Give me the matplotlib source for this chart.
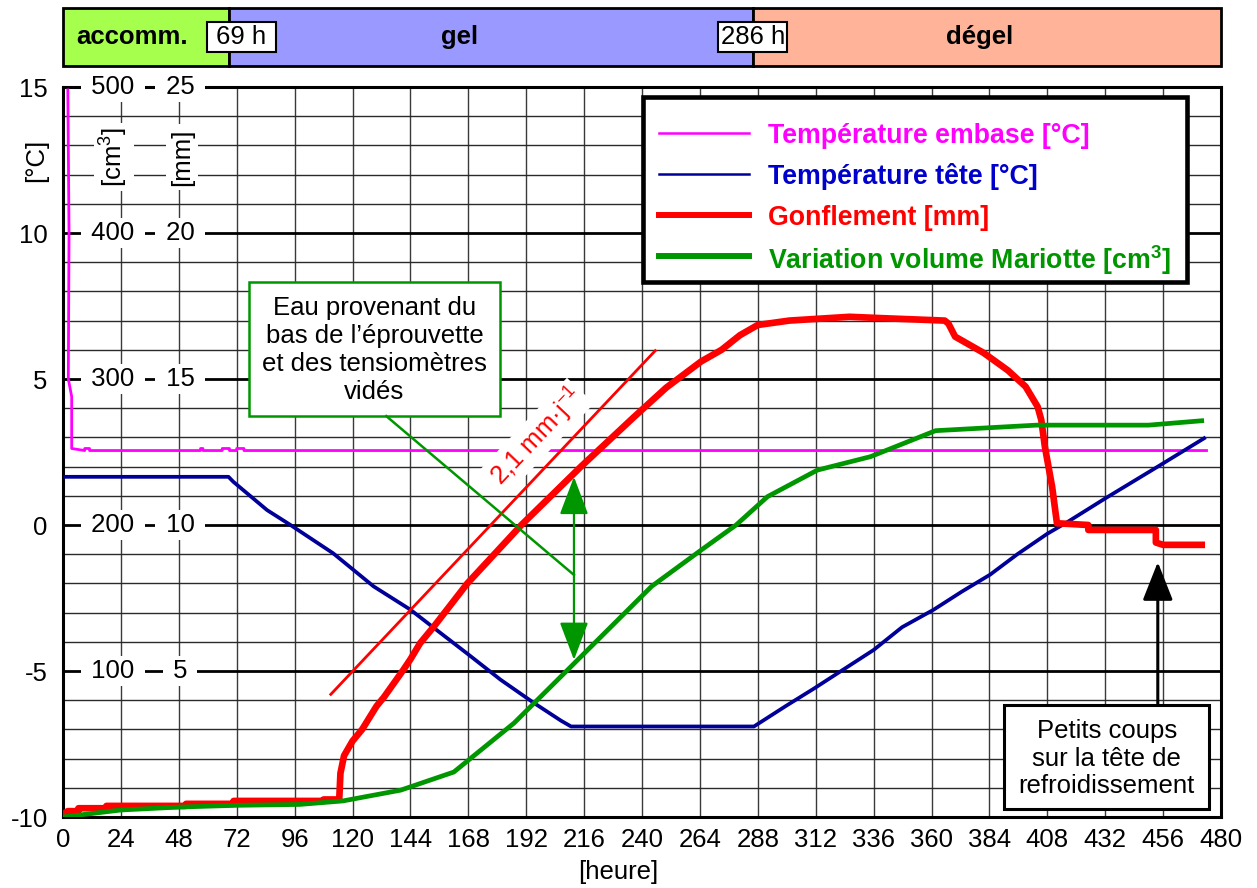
import matplotlib
matplotlib.use("Agg")
import matplotlib.pyplot as plt
from matplotlib.patches import Rectangle, FancyArrowPatch, ArrowStyle
from matplotlib.lines import Line2D

plt.rcParams['font.family'] = ['Liberation Sans', 'DejaVu Sans']
plt.rcParams['mathtext.default'] = 'regular'
plt.rcParams['axes.unicode_minus'] = False

# ---------------- data ----------------
hour_ticks = list(range(0, 481, 24))
temp_ticks = [-10, -5, 0, 5, 10, 15]
vol_ticks = [100, 200, 300, 400, 500]
mm_ticks = [5, 10, 15, 20, 25]

phase_names = ["accomm.", "gel", "dégel"]
phase_start = [0, 69, 286]
phase_end = [69, 286, 480]
phase_colors = ["#A6FF4D", "#9999FF", "#FFB399"]
bound_labels = [" 69 h ", "286 h"]

# Température embase [°C]
emb_t = [2.0, 2.5, 2.2, 3.6, 3.6, 9.0, 9.0, 11.0, 11.0, 57.0, 57.0, 58.0, 58.0,
         66.0, 66.0, 69.0, 69.0, 72.0, 72.0, 75.0, 75.0, 474.0]
emb_T = [14.9, 10.0, 5.0, 4.4, 2.62, 2.55, 2.62, 2.62, 2.55, 2.55, 2.62, 2.62, 2.55,
         2.55, 2.62, 2.62, 2.55, 2.55, 2.62, 2.62, 2.55, 2.55]

# Température tête [°C]
tete_t = [1, 68.6, 70.6, 84.6, 94.3, 112, 128.7, 144, 156.5, 167.5, 181.4, 195.3,
          206.4, 210.6, 286.4, 299.6, 311.3, 324.4, 336, 347.8, 360.9, 372.6, 384.3,
          395.6, 408, 416.5, 432, 456, 473]
tete_T = [1.65, 1.65, 1.48, 0.51, 0.0, -0.97, -2.1, -2.9, -3.7, -4.4, -5.3, -6.1,
          -6.7, -6.9, -6.9, -6.2, -5.6, -4.9, -4.28, -3.5, -2.9, -2.28, -1.7,
          -1.0, -0.3, 0.11, 0.91, 2.11, 2.97]

# Gonflement [mm]
gonf_t = [0, 1, 2, 6.4, 6.4, 18, 18, 51, 51, 70.7, 70.7, 108, 108, 114.5, 115, 116.5,
          120, 124, 130, 133, 141, 144, 148, 153.7, 167.6, 190, 214.7, 236.7, 250,
          264.5, 273, 280.6, 288, 301, 326, 340.6, 365.5, 367, 369.8, 381.5, 391.6,
          399, 404, 405.5, 407, 410, 412, 425, 425, 453, 453, 456, 472]
gonf_mm = [0, 0.15, 0.2, 0.2, 0.3, 0.3, 0.38, 0.38, 0.45, 0.45, 0.55, 0.55, 0.6, 0.6,
           1.5, 2.1, 2.6, 3.0, 3.8, 4.1, 5.03, 5.4, 5.95, 6.52, 8.0, 10.0, 12.0, 13.7,
           14.7, 15.6, 16.0, 16.5, 16.85, 17.0, 17.13, 17.08, 17.0, 16.9, 16.45, 15.9,
           15.3, 14.74, 14.05, 13.6, 12.68, 11.31, 10.06, 10.0, 9.83, 9.83, 9.4, 9.32,
           9.32]

# Variation volume Mariotte [cm3]
mar_t = [0, 24, 48, 72, 98, 116, 140, 162, 187, 212, 244, 264.5, 279, 292, 312.7,
         334.7, 361.7, 403.5, 450, 472]
mar_cm3 = [0, 4.8, 6.8, 8, 8.6, 11, 18.4, 30.8, 64.4, 105.4, 158, 182.8, 200, 219.4,
           237.6, 246.8, 264.6, 268.4, 268.4, 271.4]

# tangente 2,1 mm/j
slope_t = [111, 245.5]
slope_mm = [4.2, 15.97]

legend_labels = ["Température embase [°C]", "Température tête [°C]",
                 "Gonflement [mm]", "Variation volume Mariotte [cm$^{3}$]"]

# ---------------- style ----------------
FS = 18.5
FS_LEG = 19.3
MAG = "#FF00FF"
BLUE = "#000099"
BLUE_TXT = "#0000CC"
RED = "#FF0000"
GREEN = "#009600"

W, H = 1257, 888


def fx(px):
    return px / W


def fy(py):
    return 1 - py / H


fig = plt.figure(figsize=(W / 100, H / 100), dpi=100)

ax = fig.add_axes([fx(63), fy(817), fx(1221) - fx(63), fy(87) - fy(817)])
ax.set_xlim(0, 480)
ax.set_ylim(-10, 15)
ax.set_xticks(hour_ticks)
ax.set_xticklabels([str(h) for h in hour_ticks])
ax.set_yticks(temp_ticks)
ax.set_yticklabels([str(t) for t in temp_ticks])
ax.set_yticks(range(-10, 16), minor=True)
ax.tick_params(which="both", length=0, labelsize=FS)
ax.tick_params(axis="y", pad=11)
ax.tick_params(axis="x", pad=8)
ax.set_axisbelow(True)
ax.grid(True, axis="x", which="major", color="#3a3a3a", lw=1.0)
ax.grid(True, axis="y", which="major", color="black", lw=2.0)
ax.grid(True, axis="y", which="minor", color="#2a2a2a", lw=1.0)
for s in ax.spines.values():
    s.set_linewidth(2.2)
    s.set_color("black")

ax.set_xlabel("[heure]", fontsize=FS)
ax.xaxis.set_label_coords((618 - 63) / (1221 - 63), -0.059)
fig.text(fx(36), fy(160), "[°C]", rotation=90, ha="center", va="center", fontsize=FS)

ax.plot(emb_t, emb_T, color=MAG, lw=2.0, zorder=3)
ax.plot(tete_t, tete_T, color=BLUE, lw=2.7, zorder=3)

ax_mm = ax.twinx()
ax_mm.set_ylim(0, 25)
ax_mm.set_axis_off()
ax_cm = ax.twinx()
ax_cm.set_ylim(0, 500)
ax_cm.set_axis_off()

ax_mm.plot(slope_t, slope_mm, color=RED, lw=2.0, zorder=3)
ax_mm.plot(gonf_t, gonf_mm, color=RED, lw=4.8, zorder=4)
ax_cm.plot(mar_t, mar_cm3, color=GREEN, lw=3.4, zorder=4)

# secondary scales written inside the plot
lab_box = dict(boxstyle="square,pad=0.12", fc="white", ec="none")
for v in vol_ticks:
    ax_cm.text(20.7, v, f" {v} ", ha="center", va="center", fontsize=FS,
               bbox=lab_box, zorder=6, clip_on=False)
for m in mm_ticks:
    ax_mm.text(48.5, m, f" {m} ", ha="center", va="center", fontsize=FS,
               bbox=lab_box, zorder=6, clip_on=False)
ax_cm.text(21.1, 452, "[cm$^{3}$]", rotation=90, ha="center", va="center", fontsize=FS,
           bbox=dict(boxstyle="square,pad=0.15", fc="white", ec="none"), zorder=6)
ax_mm.text(49.3, 22.6, "[mm]", rotation=90, ha="center", va="center", fontsize=FS,
           bbox=dict(boxstyle="square,pad=0.15", fc="white", ec="none"), zorder=6)

# ---------------- annotations (overlay, °C coordinates) ----------------
T = ax.transData
# "Eau provenant..." box
ax_cm.add_patch(Rectangle((77.1, 3.73), 181.1 - 77.1, 8.32 - 3.73, transform=T,
                          fc="white", ec=GREEN, lw=1.8, zorder=7))
ax_cm.text(129.1, 6.0, "Eau provenant du\nbas de l’éprouvette\net des tensiomètres\nvidés",
           transform=T, ha="center", va="center", fontsize=FS, linespacing=1.22, zorder=8)
ax_cm.add_line(Line2D([134, 211.8], [3.73, -1.71], transform=T, color=GREEN, lw=1.8,
                      zorder=7))
ax_cm.add_patch(FancyArrowPatch((211.8, 1.65), (211.8, -4.62), transform=T,
                                arrowstyle=ArrowStyle("<|-|>", head_length=23.8,
                                                      head_width=9.0),
                                mutation_scale=1, color=GREEN, lw=1.6,
                                shrinkA=0, shrinkB=0, zorder=7))

# slope label
ax_cm.text(196.4, 3.02, "2,1 mm·j$^{-1}$", transform=T, rotation=46.6,
           rotation_mode="anchor", ha="center", va="center", fontsize=FS, color=RED,
           bbox=dict(boxstyle="square,pad=0.1", fc="white", ec="none"), zorder=7)

# "Petits coups..." box
ax_cm.add_patch(Rectangle((390.1, -9.73), 475.1 - 390.1, -6.16 + 9.73, transform=T,
                          fc="white", ec="black", lw=2.2, zorder=7))
ax_cm.text(432.6, -8.0, "Petits coups\nsur la tête de\nrefroidissement", transform=T,
           ha="center", va="center", fontsize=FS, linespacing=1.18, zorder=8)
ax_cm.add_patch(FancyArrowPatch((453.8, -6.16), (453.8, -1.27), transform=T,
                                arrowstyle=ArrowStyle("-|>", head_length=23.8,
                                                      head_width=9.4),
                                mutation_scale=1, color="black", lw=2.2,
                                shrinkA=0, shrinkB=0, zorder=7))

# ---------------- phase bar ----------------
bar = fig.add_axes([fx(63), fy(66), fx(1221) - fx(63), fy(8) - fy(66)])
bar.set_xlim(0, 480)
bar.set_ylim(0, 1)
bar.set_axis_off()
label_pos = [28.7, 164.5, 380.0]
for s0, s1, c, name, lp in zip(phase_start, phase_end, phase_colors, phase_names,
                               label_pos):
    bar.add_patch(Rectangle((s0, 0), s1 - s0, 1, fc=c, ec="black", lw=2.0,
                            clip_on=False))
    bar.text(lp, 0.5, name, ha="center", va="center", fontsize=FS, fontweight="bold")
mark_pos = [74.0, 285.9]
for mp, lab in zip(mark_pos, bound_labels):
    bar.text(mp, 0.5, lab, ha="center", va="center", fontsize=FS,
             bbox=dict(boxstyle="square,pad=0.1", fc="white", ec="black", lw=1.5))

# ---------------- legend ----------------
fig.add_artist(Rectangle((fx(643), fy(282)), fx(1187) - fx(643), fy(97) - fy(282),
                         transform=fig.transFigure, fc="white", ec="black", lw=3.3,
                         zorder=5))
leg_colors = [MAG, BLUE, RED, GREEN]
leg_txt_colors = [MAG, BLUE_TXT, RED, GREEN]
leg_lw = [1.8, 1.8, 4.3, 4.3]
leg_y = [133, 174, 215, 256]
for lab, c, tc, lw, y in zip(legend_labels, leg_colors, leg_txt_colors, leg_lw, leg_y):
    fig.add_artist(Line2D([fx(659), fx(749)], [fy(y), fy(y)], transform=fig.transFigure,
                          color=c, lw=lw, zorder=6))
    fig.text(fx(768), fy(y), lab, color=tc, fontsize=FS_LEG, fontweight="bold",
             ha="left", va="center_baseline", zorder=7)

fig.savefig("out.png", dpi=100)
